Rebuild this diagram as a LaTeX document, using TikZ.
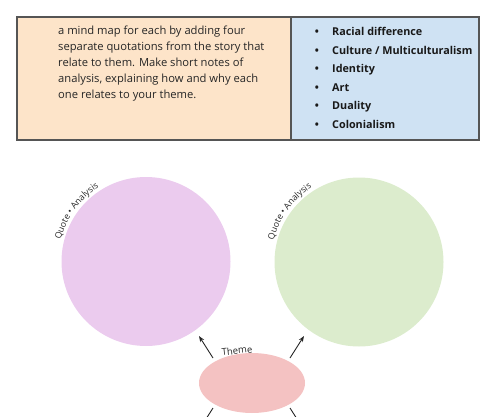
\documentclass[tikz,border=0pt]{standalone}
\usepackage{fontspec}
\setmainfont{Open Sans}
\usetikzlibrary{shapes.geometric,arrows.meta,decorations.text}
\definecolor{cellorange}{HTML}{FDE4C9}
\definecolor{cellblue}{HTML}{CFE2F3}
\definecolor{lilac}{HTML}{EBCBEE}
\definecolor{lightgreen}{HTML}{DCECCD}
\definecolor{rosy}{HTML}{F4C2C2}
\definecolor{frame}{HTML}{555555}
\begin{document}
\begin{tikzpicture}[x=1pt,y=1pt,
  cell/.style={draw=frame,line width=1.2pt},
  bubble/.style={circle,inner sep=0pt,minimum size=169pt},
  arrowline/.style={draw=black!85,line width=0.9pt,-{Stealth[length=6pt,width=4.5pt]}},
  plainline/.style={draw=black!85,line width=0.9pt},
  arclabel/.style={decorate,decoration={text along path,text align=center,
     text={|\fontsize{8.8}{10}\selectfont\color{black!85}|Quote • Analysis}}}]
\useasboundingbox (0,0) rectangle (500,416);
% table
\path[fill=cellorange] (17,276) rectangle (291,399);
\path[fill=cellblue] (291,276) rectangle (479,399);
\draw[cell] (17,276) rectangle (479,399);
\draw[cell] (291,276) -- (291,399);
\node[anchor=north west,align=left,inner sep=0pt,font=\fontsize{11.2}{16}\selectfont,text=black!85] (intro) at (58,390.5)
 {a mind map for each by adding four\\
  separate quotations from the story that\\
  relate to them. Make short notes of\\
  analysis, explaining how and why each\\
  one relates to your theme.};
\foreach \t [count=\i] in {Racial difference,Culture / Multiculturalism,Identity,Art,Duality,Colonialism}{
  \node[anchor=base west,inner sep=0pt,font=\fontsize{10.8}{12}\selectfont\bfseries,text=black!90] (item\i) at (332,{416-32-3.8-(\i-1)*18.5}) {\t};
  \node[anchor=base,inner sep=0pt,font=\fontsize{10.8}{12}\selectfont\bfseries,text=black!90] (dot\i) at (317,{416-32-3.8-(\i-1)*18.5}) {•};
}
% circles
\node[bubble,fill=lilac] (c1) at (146,154.5) {};
\node[bubble,fill=lightgreen] (c2) at (359,154) {};
\node[ellipse,inner sep=0pt,minimum width=106pt,minimum height=60pt,fill=rosy] (theme) at (252,33) {};
\path[arclabel] (c1.center) ++(170:88) arc[start angle=170,end angle=118,radius=88];
\path[arclabel] (c2.center) ++(170:88) arc[start angle=170,end angle=118,radius=88];
\node[rotate=6,inner sep=0pt,font=\fontsize{9.5}{10}\selectfont,text=black!85] (themelabel) at (237,65.5) {Theme};
% connectors
\coordinate (a1s) at (213,58);
\coordinate (a1e) at (199,80);
\coordinate (a2s) at (290,58);
\coordinate (a2e) at (304,80);
\coordinate (b1s) at (213,8);
\coordinate (b1e) at (206,-3);
\coordinate (b2s) at (290,8);
\coordinate (b2e) at (297,-3);
\draw[arrowline] (a1s) -- (a1e);
\draw[arrowline] (a2s) -- (a2e);
\draw[plainline] (b1s) -- (b1e);
\draw[plainline] (b2s) -- (b2e);
\end{tikzpicture}
\end{document}
